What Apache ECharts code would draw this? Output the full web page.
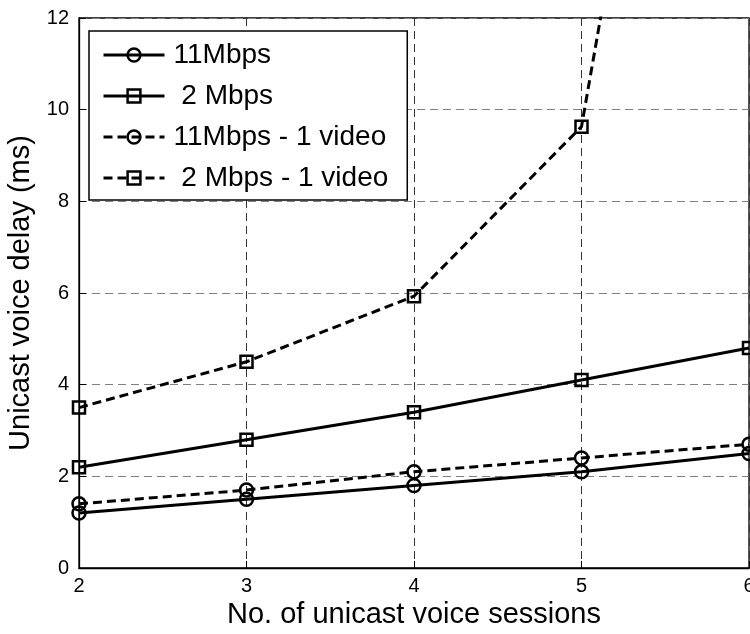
<!DOCTYPE html>
<html>
<head>
<meta charset="utf-8">
<script src="https://cdn.jsdelivr.net/npm/echarts@6/dist/echarts.min.js"></script>
<style>
  html, body { margin: 0; padding: 0; background: #fff; }
  #chart { width: 750px; height: 634px; }
</style>
</head>
<body>
<div id="chart"></div>
<script>
// Number of unicast voice sessions
const sessions = [2, 3, 4, 5, 6];

// Unicast voice delay (ms) per configuration
const delay11 = [1.2, 1.5, 1.8, 2.1, 2.5];
const delay2 = [2.2, 2.8, 3.4, 4.1, 4.8];
const delay11Video = [1.4, 1.7, 2.1, 2.4, 2.7];
const delay2Video = [3.5, 4.5, 5.93, 9.63, 30.5];

const seriesNames = ['11Mbps', ' 2 Mbps', '11Mbps - 1 video', ' 2 Mbps - 1 video'];
const yTicks = [0, 2, 4, 6, 8, 10, 12];

const font = '"Liberation Sans", Arial, sans-serif';

function pairs(values) {
  return sessions.map((s, i) => [s, values[i]]);
}

function makeSeries(name, values, symbol, dashed) {
  return {
    name: name,
    type: 'line',
    data: pairs(values),
    symbol: symbol,
    symbolSize: symbol === 'circle' ? 13 : 12,
    showAllSymbol: true,
    clip: true,
    z: 3,
    itemStyle: { color: 'rgba(255,255,255,0)', borderColor: '#000', borderWidth: 2.5 },
    lineStyle: dashed
      ? { color: '#000', width: 3, type: [9, 5] }
      : { color: '#000', width: 3, type: 'solid' },
    emphasis: { disabled: true },
    animation: false
  };
}

const chart = echarts.init(document.getElementById('chart'), null, { renderer: 'canvas' });

chart.setOption({
  backgroundColor: '#fff',
  animation: false,
  grid: {
    left: 79, right: 1, top: 18, bottom: 66,
    outerBoundsMode: 'none',
    containLabel: false,
    show: true, borderColor: '#000', borderWidth: 1.3, backgroundColor: 'transparent'
  },
  legend: {
    orient: 'vertical',
    left: 89, top: 31,
    backgroundColor: '#fff',
    borderColor: '#000', borderWidth: 1.5,
    padding: [10, 19, 8, 13],
    itemWidth: 61, itemHeight: 16,
    itemGap: 13,
    selectedMode: false,
    lineStyle: { width: 3 },
    itemStyle: { borderWidth: 2.5 },
    textStyle: { fontFamily: font, fontSize: 28, lineHeight: 28, color: '#000', padding: [0, 0, 0, 4] },
    data: seriesNames.map(n => ({ name: n }))
  },
  xAxis: {
    type: 'value',
    min: sessions[0], max: sessions[sessions.length - 1], interval: 1,
    name: 'No. of unicast voice sessions',
    nameLocation: 'middle', nameGap: 31,
    nameTextStyle: { fontFamily: font, fontSize: 29, color: '#000' },
    axisLine: { show: true, lineStyle: { color: '#000', width: 1.3 } },
    axisTick: { show: true, inside: true, length: 7, lineStyle: { color: '#000' } },
    axisLabel: { fontFamily: font, fontSize: 20, color: '#000', margin: 8 },
    splitLine: { show: true, lineStyle: { color: '#333', width: 1, type: [8, 5] } }
  },
  yAxis: {
    type: 'value',
    min: yTicks[0], max: yTicks[yTicks.length - 1], interval: 2,
    name: 'Unicast voice delay (ms)',
    nameLocation: 'middle', nameGap: 37,
    nameTextStyle: { fontFamily: font, fontSize: 29, color: '#000' },
    axisLine: { show: true, lineStyle: { color: '#000', width: 1.3 } },
    axisTick: { show: true, inside: true, length: 7, lineStyle: { color: '#000' } },
    axisLabel: { fontFamily: font, fontSize: 20, color: '#000', margin: 10 },
    splitLine: { show: true, lineStyle: { color: '#808080', width: 1, type: [8, 5] } }
  },
  series: [
    makeSeries(seriesNames[0], delay11, 'circle', false),
    makeSeries(seriesNames[1], delay2, 'rect', false),
    makeSeries(seriesNames[2], delay11Video, 'circle', true),
    makeSeries(seriesNames[3], delay2Video, 'rect', true)
  ]
});
</script>
</body>
</html>
